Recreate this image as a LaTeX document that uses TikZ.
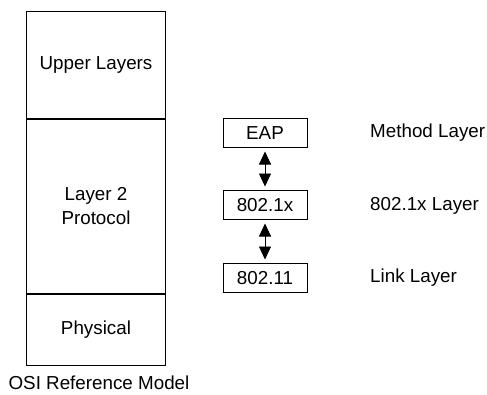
\documentclass[tikz,border=0pt]{standalone}
\usepackage{fontspec}
\setmainfont{Liberation Sans}
\usetikzlibrary{positioning,arrows.meta}
\tikzset{
	every node/.style={font=\fontsize{18.8bp}{24bp}\selectfont},
	layer/.style={draw, line width=1bp, minimum width=138bp, inner sep=0pt, align=center},
	proto/.style={draw, line width=1bp, minimum width=84bp, minimum height=29bp, inner sep=0pt},
	layername/.style={anchor=west, inner sep=0pt},
	link/.style={{Triangle[length=13bp,width=12bp]}-{Triangle[length=13bp,width=12bp]}, line width=0.8bp, shorten >=3.5bp, shorten <=3.5bp}
}

\begin{document}
\begin{tikzpicture}[x=1bp, y=-1bp]
		%%%%% START %%%%%
		\useasboundingbox (0, 0) rectangle (487, 394);
		
		% OSI stack
		\node[layer, minimum height=107bp] (upper) at (96, 64.5) {Upper Layers};
		\node[layer, minimum height=174bp, below=0pt of upper] (layertwo) {Layer 2\\Protocol};
		\node[layer, minimum height=71bp, below=0pt of layertwo] (physical) {Physical};
		\node (osi) at (99, 383) {OSI Reference Model};
		
		% 802.1x stack
		\node[proto] (eap) at (265, 133) {EAP};
		\node[proto] (dot1x) at (265, 205) {802.1x};
		\node[proto] (dot11) at (265, 278) {802.11};
		\draw[link] (eap) -- (dot1x);
		\draw[link] (dot1x) -- (dot11);
		
		\node[layername] (method) at (370, 133) {Method Layer};
		\node[layername] (authlayer) at (370, 206) {802.1x Layer};
		\node[layername] (linklayer) at (370, 278) {Link Layer};
		%%%%% END %%%%%
\end{tikzpicture}
\end{document}
